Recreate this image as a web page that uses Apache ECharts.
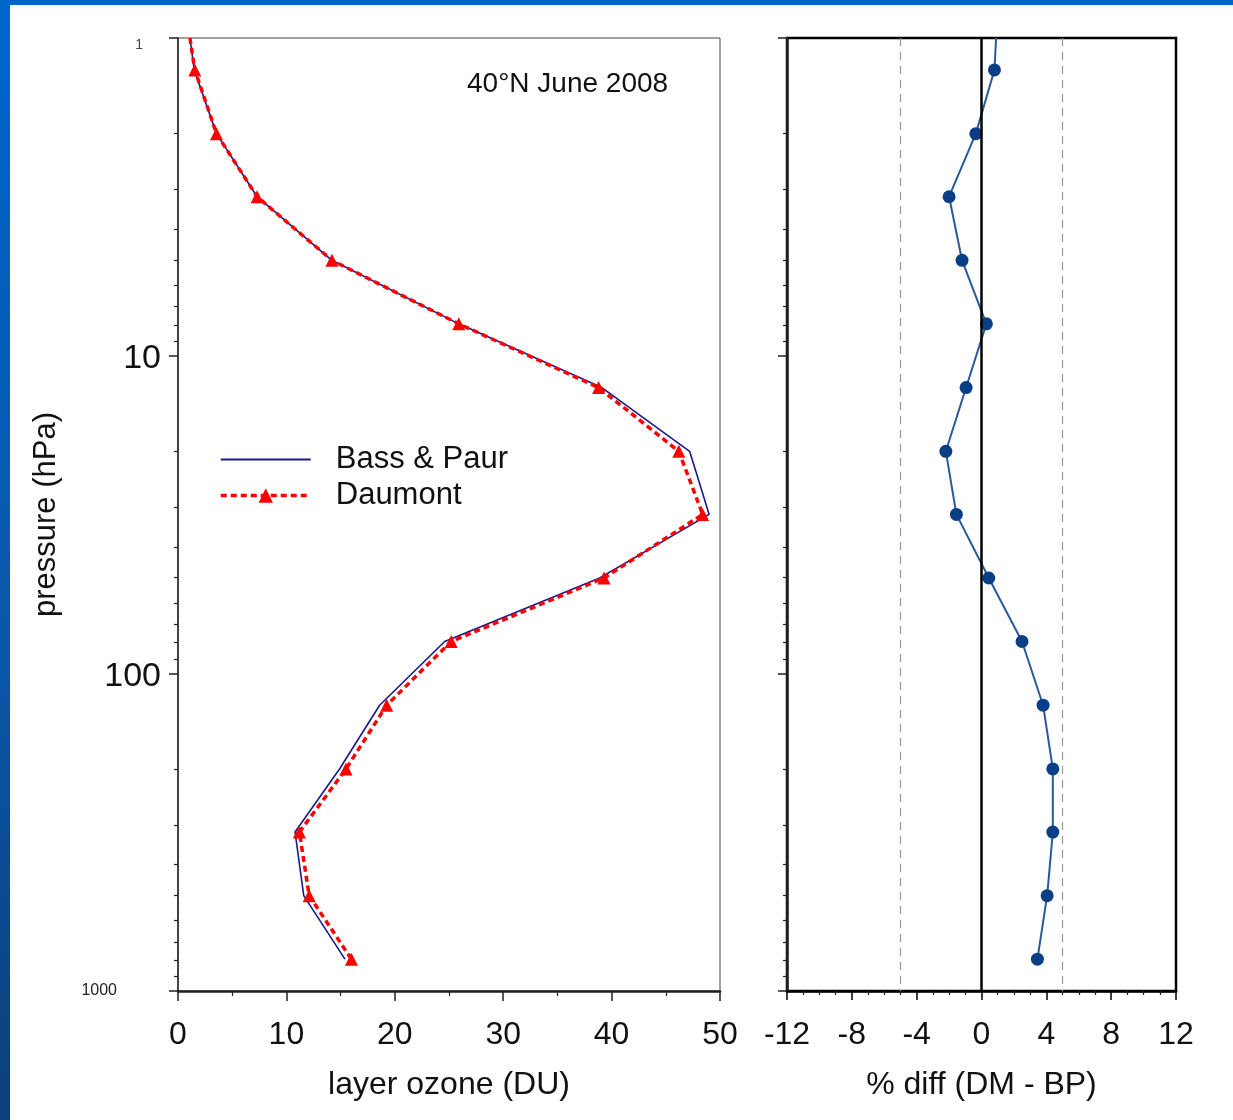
<!DOCTYPE html>
<html>
<head>
<meta charset="utf-8">
<script src="https://cdn.jsdelivr.net/npm/echarts@6/dist/echarts.min.js"></script>
<style>
html,body{margin:0;padding:0;background:#fff;}
#chart{width:1233px;height:1120px;}
</style>
</head>
<body>
<div id="chart"></div>
<script>
// pressure levels (hPa)
var pressure = [1, 1.26, 2.0, 3.16, 5.01, 7.94, 12.6, 20.0, 31.6, 50.1, 79.4, 126, 200, 316, 501, 794];
// layer ozone (DU)
var bassPaur = [1.1, 1.5, 3.55, 7.3, 14.2, 25.9, 39.1, 47.2, 49.0, 38.9, 24.6, 18.6, 14.9, 10.8, 11.6, 15.4];
var daumont  = [1.1, 1.55, 3.55, 7.3, 14.2, 25.9, 38.8, 46.2, 48.4, 39.3, 25.2, 19.25, 15.5, 11.2, 12.1, 16.0];
// % diff (DM - BP)
var pctDiff  = [0.9, 0.8, -0.35, -2.0, -1.2, 0.3, -0.95, -2.2, -1.55, 0.45, 2.5, 3.8, 4.4, 4.4, 4.05, 3.45];
var refLines = [-5, 5];
var minorPressureTicks = [2,3,4,5,6,7,8,9,20,30,40,50,60,70,80,90,200,300,400,500,600,700,800,900];
var titleText = '40\u00B0N June 2008';

var FONT = 'Liberation Sans, Arial, sans-serif';

function pairs(xs, ys, hideFirst) {
  return xs.map(function (x, i) {
    var item = { value: [x, ys[i]] };
    if (hideFirst && i === 0) { item.symbol = 'none'; }
    return item;
  });
}

var chart = echarts.init(document.getElementById('chart'), null, {renderer: 'canvas'});

function yMain(gridIndex, showLabel, lineWidth, name) {
  return {
    type: 'log', logBase: 10, gridIndex: gridIndex, min: 1, max: 1000, inverse: true,
    position: 'left',
    name: name || '', nameLocation: 'middle', nameGap: 116, nameRotate: 90,
    nameTextStyle: {fontFamily: FONT, fontSize: 31, color: '#111'},
    axisLine: {show: true, onZero: false, lineStyle: {color: '#222', width: lineWidth}},
    axisTick: {show: true, inside: false, length: 9, lineStyle: {color: '#222', width: 1.5}},
    splitLine: {show: false},
    axisLabel: {
      show: showLabel, margin: 17, color: '#111', fontFamily: FONT,
      formatter: function (v) {
        var r = Math.round(v);
        if (r === 1) return '{s|1}';
        if (r === 1000) return '{t|1000}';
        return '{b|' + r + '}';
      },
      rich: {
        s: {fontSize: 14, color: '#444', fontFamily: FONT, padding: [14, 18, 0, 0]},
        t: {fontSize: 16, color: '#222', fontFamily: FONT, padding: [0, 44, 0, 0]},
        b: {fontSize: 34, color: '#111', fontFamily: FONT, padding: [6, 0, 0, 0]}
      }
    }
  };
}
function yMinor(gridIndex) {
  return {
    type: 'log', logBase: 10, gridIndex: gridIndex, min: 1, max: 1000, inverse: true,
    position: 'left',
    axisLine: {show: false, onZero: false},
    axisTick: {show: true, inside: false, length: 4, customValues: minorPressureTicks,
      lineStyle: {color: '#222', width: 1.2}},
    axisLabel: {show: false},
    splitLine: {show: false}
  };
}

var option = {
  backgroundColor: '#ffffff',
  animation: false,
  graphic: [
    {type: 'rect', left: 0, top: 0, shape: {width: 1233, height: 5}, style: {fill: '#0066cc'}, z: 100},
    {type: 'rect', left: 0, top: 0, shape: {width: 10, height: 1120},
      style: {fill: new echarts.graphic.LinearGradient(0, 0, 0, 1, [
        {offset: 0, color: '#0066cc'}, {offset: 0.6, color: '#0a56a8'}, {offset: 1, color: '#0b3f7a'}])}, z: 100}
  ],
  title: {
    text: titleText, left: 462, top: 65,
    textStyle: {fontFamily: FONT, fontSize: 28, fontWeight: 'normal', color: '#111'}
  },
  legend: {
    orient: 'vertical', left: 214, top: 439, itemWidth: 90, itemHeight: 18, itemGap: 5,
    data: [
      {name: 'Bass & Paur', icon: 'path://M0,0h90v2h-90z', itemStyle: {color: '#1a1a8a'}},
      {name: 'Daumont', lineStyle: {color: '#ff0000', width: 3.5, type: [6, 4]}}
    ],
    textStyle: {fontFamily: FONT, fontSize: 31, color: '#111', padding: [0, 0, 0, 20]}
  },
  grid: [
    {left: 178, top: 38, width: 542, height: 953, show: true, borderColor: '#444', borderWidth: 1, backgroundColor: 'transparent'},
    {left: 787, top: 38, width: 389, height: 953, show: true, borderColor: '#000', borderWidth: 2.5, backgroundColor: 'transparent'}
  ],
  xAxis: [
    {
      type: 'value', gridIndex: 0, min: 0, max: 50, interval: 10, position: 'bottom',
      name: 'layer ozone (DU)', nameLocation: 'middle', nameGap: 78,
      nameTextStyle: {fontFamily: FONT, fontSize: 32, color: '#111'},
      axisLine: {show: true, onZero: false, lineStyle: {color: '#222', width: 2.5}},
      axisTick: {show: true, inside: false, length: 10, lineStyle: {color: '#222', width: 1.5}},
      minorTick: {show: true, splitNumber: 2, length: 5, lineStyle: {color: '#222', width: 1.2}},
      splitLine: {show: false},
      axisLabel: {margin: 28, fontFamily: FONT, fontSize: 32, color: '#111'}
    },
    {
      type: 'value', gridIndex: 1, min: -12, max: 12, interval: 4, position: 'bottom',
      name: '% diff (DM - BP)', nameLocation: 'middle', nameGap: 78,
      nameTextStyle: {fontFamily: FONT, fontSize: 32, color: '#111'},
      axisLine: {show: true, onZero: false, lineStyle: {color: '#000', width: 2.5}},
      axisTick: {show: true, inside: false, length: 9, lineStyle: {color: '#000', width: 1.5}},
      minorTick: {show: true, splitNumber: 4, length: 4, lineStyle: {color: '#222', width: 1.2}},
      splitLine: {show: false},
      axisLabel: {margin: 28, fontFamily: FONT, fontSize: 32, color: '#111'}
    }
  ],
  yAxis: [
    yMain(0, true, 1.5, 'pressure (hPa)'),
    yMinor(0),
    yMain(1, false, 2.5, ''),
    yMinor(1)
  ],
  series: [
    {
      name: 'Bass & Paur', type: 'line', xAxisIndex: 0, yAxisIndex: 0,
      data: pairs(bassPaur, pressure, false),
      symbol: 'none', color: '#1a1a8a',
      lineStyle: {color: '#1a1a8a', width: 1.6}, z: 2
    },
    {
      name: 'Daumont', type: 'line', xAxisIndex: 0, yAxisIndex: 0,
      data: pairs(daumont, pressure, true),
      symbol: 'triangle', symbolSize: 13, color: '#ff0000',
      itemStyle: {color: '#ff0000'},
      lineStyle: {color: '#ff0000', width: 3.5, type: [6, 4]}, z: 3
    },
    {
      name: 'diff', type: 'line', xAxisIndex: 1, yAxisIndex: 2,
      data: pairs(pctDiff, pressure, true),
      symbol: 'circle', symbolSize: 13,
      itemStyle: {color: '#0a3f86'},
      lineStyle: {color: '#2a5a9a', width: 2}, z: 3,
      markLine: {
        silent: true, symbol: 'none', label: {show: false},
        data: [
          {xAxis: 0, lineStyle: {color: '#000', width: 2.5, type: 'solid'}},
          {xAxis: refLines[0], lineStyle: {color: '#999', width: 1.2, type: [8, 6]}},
          {xAxis: refLines[1], lineStyle: {color: '#999', width: 1.2, type: [8, 6]}}
        ]
      }
    }
  ]
};
chart.setOption(option);
</script>
</body>
</html>
